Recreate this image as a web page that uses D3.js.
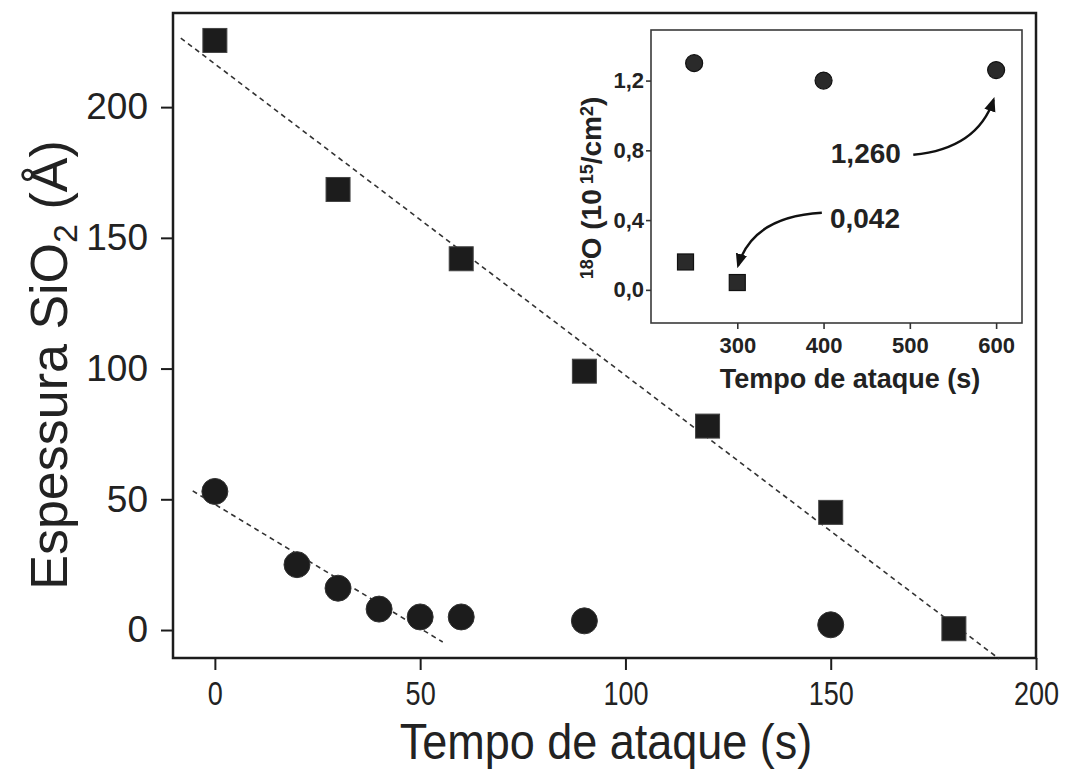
<!DOCTYPE html>
<html>
<head>
<meta charset="utf-8">
<script src="https://cdn.jsdelivr.net/npm/d3@7"></script>
<style>
body{margin:0;background:#fff;}
svg{display:block;font-family:"Liberation Sans",Arial,sans-serif;}
</style>
</head>
<body>
<svg width="1072" height="772"></svg>
<script>
"use strict";

// main plot data
var squareTimes=[0,30,60,90,120,150,180];
var squareThick=[225.5,168.5,142,99,78,45,0.5];
var circleTimes=[0,20,30,40,50,60,90,150];
var circleThick=[53,25,16,8,5,5,3.5,2];
var squareFit=[[-8.3,226.4],[191,-11]];
var circleFit=[[-5.4,53.2],[55.5,-4.6]];
var xTicks=[0,50,100,150,200];
var yTicks=[0,50,100,150,200];

// inset data
var insetSqTimes=[240,300];
var insetSqVals=[0.16,0.042];
var insetCiTimes=[250,400,600];
var insetCiVals=[1.30,1.20,1.26];
var insetXTicks=[300,400,500,600];
var insetYTicks=[0,0.4,0.8,1.2];
var notes=[
	{label:"1,260",tx:449,ty:0.73,from:[504,0.775],ctrl:[578,0.81],to:[597,1.09]},
	{label:"0,042",tx:448,ty:0.355,from:[398,0.442],ctrl:[318,0.42],to:[301,0.14]}
];

var svg=d3.select("svg");
var ink="#1c1c1c";

var x=d3.scaleLinear().domain([-10.2,200]).range([173,1036]);
var y=d3.scaleLinear().domain([-10.7,236]).range([658,13]);

// axes
var yAxis=svg.append("g")
	.attr("transform","translate(173,0)")
	.call(d3.axisLeft(y).tickValues(yTicks).tickSize(12).tickSizeOuter(0).tickPadding(13));
var xAxis=svg.append("g")
	.attr("transform","translate(0,658)")
	.call(d3.axisBottom(x).tickValues(xTicks).tickSize(12).tickSizeOuter(0).tickPadding(12));
[xAxis,yAxis].forEach(function(g){
	g.select(".domain").remove();
	g.selectAll("line").attr("stroke",ink).attr("stroke-width",2);
	g.selectAll("text").attr("fill","#222").style("font-size","37px");
});
// x tick labels look condensed in the original
xAxis.selectAll(".tick text").style("font-size","33px").attr("transform","scale(0.82,1)");

svg.append("rect")
	.attr("x",173).attr("y",13).attr("width",863).attr("height",645)
	.attr("fill","none").attr("stroke",ink).attr("stroke-width",2.5);

// fit lines
var line=d3.line().x(function(d){return x(d[0]);}).y(function(d){return y(d[1]);});
[squareFit,circleFit].forEach(function(f){
	svg.append("path").attr("d",line(f))
		.attr("fill","none").attr("stroke","#333").attr("stroke-width",1.6)
		.attr("stroke-dasharray","5,4");
});

// markers
svg.selectAll(".sq").data(squareTimes).enter().append("rect")
	.attr("x",function(d){return x(d)-12;})
	.attr("y",function(d,i){return y(squareThick[i])-12;})
	.attr("width",24).attr("height",24)
	.attr("fill",ink).attr("stroke","#444").attr("stroke-width",1);
svg.selectAll(".ci").data(circleTimes).enter().append("circle")
	.attr("cx",function(d){return x(d);})
	.attr("cy",function(d,i){return y(circleThick[i]);})
	.attr("r",13)
	.attr("fill",ink).attr("stroke","#333").attr("stroke-width",1);

// axis titles
svg.append("text")
	.attr("transform","translate(606,759) scale(0.9,1)")
	.attr("text-anchor","middle")
	.attr("fill","#222").style("font-size","50px")
	.text("Tempo de ataque (s)");
var yt=svg.append("text")
	.attr("transform","translate(67,365) rotate(-90)")
	.attr("text-anchor","middle")
	.attr("fill","#222").style("font-size","52px");
yt.append("tspan").text("Espessura SiO");
yt.append("tspan").attr("dy",10).style("font-size","34px").text("2");
yt.append("tspan").attr("dy",-10).text(" (Å)");

// inset
var ix=d3.scaleLinear().domain([200,630]).range([651,1022]);
var iy=d3.scaleLinear().domain([-0.19,1.49]).range([323,30]);

svg.append("rect")
	.attr("x",651).attr("y",30).attr("width",371).attr("height",293)
	.attr("fill","#fff").attr("stroke","#3a3a3a").attr("stroke-width",1.6);

var fmt=function(d){return d3.format(".1f")(d).replace(".",",");};
var iyAxis=svg.append("g")
	.attr("transform","translate(651,0)")
	.call(d3.axisLeft(iy).tickValues(insetYTicks).tickFormat(fmt).tickSize(5).tickSizeOuter(0).tickPadding(2));
var ixAxis=svg.append("g")
	.attr("transform","translate(0,323)")
	.call(d3.axisBottom(ix).tickValues(insetXTicks).tickSize(6).tickSizeOuter(0).tickPadding(8));
[ixAxis,iyAxis].forEach(function(g){
	g.select(".domain").remove();
	g.selectAll("line").attr("stroke","#333").attr("stroke-width",1.6);
	g.selectAll("text").attr("fill","#222").style("font-size","22px").style("font-weight","bold");
});

svg.selectAll(".isq").data(insetSqTimes).enter().append("rect")
	.attr("x",function(d){return ix(d)-8;})
	.attr("y",function(d,i){return iy(insetSqVals[i])-8;})
	.attr("width",16).attr("height",16)
	.attr("fill","#2a2a2a").attr("stroke","#111").attr("stroke-width",1.2);
svg.selectAll(".ici").data(insetCiTimes).enter().append("circle")
	.attr("cx",function(d){return ix(d);})
	.attr("cy",function(d,i){return iy(insetCiVals[i]);})
	.attr("r",8.5)
	.attr("fill","#2a2a2a").attr("stroke","#111").attr("stroke-width",1.2);

svg.append("text")
	.attr("x",850).attr("y",388).attr("text-anchor","middle")
	.attr("fill","#222").style("font-size","27px").style("font-weight","bold")
	.text("Tempo de ataque (s)");
var iyt=svg.append("text")
	.attr("transform","translate(601,188) rotate(-90)")
	.attr("text-anchor","middle")
	.attr("fill","#222").style("font-size","28px").style("font-weight","bold");
iyt.append("tspan").attr("dy",-8).style("font-size","18px").text("18");
iyt.append("tspan").attr("dy",8).text("O (10");
iyt.append("tspan").attr("dy",-8).style("font-size","18px").text(" 15");
iyt.append("tspan").attr("dy",8).text("/cm");
iyt.append("tspan").attr("dy",-8).style("font-size","18px").text("2");
iyt.append("tspan").attr("dy",8).text(")");

// annotations
svg.append("defs").append("marker")
	.attr("id","head").attr("viewBox","0 0 10 10")
	.attr("refX",8).attr("refY",5)
	.attr("markerWidth",6).attr("markerHeight",6)
	.attr("orient","auto")
	.append("path").attr("d","M0,1 L10,5 L0,9 Z").attr("fill","#111");

notes.forEach(function(n){
	svg.append("text")
		.attr("x",ix(n.tx)).attr("y",iy(n.ty)).attr("text-anchor","middle")
		.attr("fill","#222").style("font-size","28px").style("font-weight","bold")
		.text(n.label);
	var p=d3.path();
	p.moveTo(ix(n.from[0]),iy(n.from[1]));
	p.quadraticCurveTo(ix(n.ctrl[0]),iy(n.ctrl[1]),ix(n.to[0]),iy(n.to[1]));
	svg.append("path").attr("d",p.toString())
		.attr("fill","none").attr("stroke","#111").attr("stroke-width",2.4)
		.attr("marker-end","url(#head)");
});
</script>
</body>
</html>
